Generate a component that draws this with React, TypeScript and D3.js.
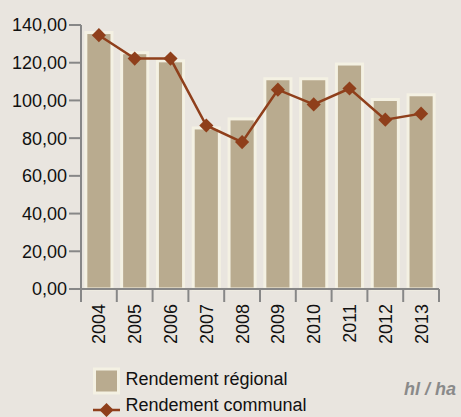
import * as React from "react";
import * as d3 from "d3";

const years = ["2004", "2005", "2006", "2007", "2008", "2009", "2010", "2011", "2012", "2013"];
const rendementRegional = [136, 125.3, 121, 85.4, 90.2, 111.5, 111.5, 119.3, 100.5, 103];
const rendementCommunal = [134.6, 122.2, 122.2, 86.7, 77.9, 105.7, 97.9, 106.3, 89.8, 93];
const yTicks = [0, 20, 40, 60, 80, 100, 120, 140];
const unitLabel = "hl / ha";
const legendLabels = ["Rendement régional", "Rendement communal"];

const BG = "#e9e5df";
const BAR = "#b9ab8f";
const BAR_EDGE = "#f4f1e3";
const LINE = "#8f3f1b";
const AXIS = "#878787";
const FONT = "'Liberation Sans', Arial, sans-serif";

export default function App() {
  const ref = React.useRef<SVGSVGElement>(null);

  React.useEffect(() => {
    const svg = d3.select(ref.current);
    svg.selectAll("*").remove();

    const width = 461, height = 417;
    const left = 81, right = 439, top = 25, bottom = 289;

    svg.append("rect").attr("width", width).attr("height", height).attr("fill", BG);

    const x = d3.scaleBand().domain(years).range([left, right]).paddingInner(0.27).paddingOuter(0.135);
    const xEdges = d3.scaleBand().domain(years).range([left, right]);
    const y = d3.scaleLinear().domain([0, 140]).range([bottom, top]);

    const locale = d3.formatLocale({decimal: ",", thousands: " ", grouping: [3], currency: ["", "€"]});
    const fmt = locale.format(".2f");

    // bars
    svg.append("g").selectAll("rect")
      .data(rendementRegional)
      .enter().append("rect")
      .attr("x", (d, i) => x(years[i])!)
      .attr("y", d => y(d))
      .attr("width", x.bandwidth())
      .attr("height", d => bottom - y(d))
      .attr("fill", BAR)
      .attr("stroke", BAR_EDGE)
      .attr("stroke-width", 3);

    // y axis
    const gy = svg.append("g").attr("transform", `translate(${left},0)`);
    gy.append("line").attr("x1", 0).attr("x2", 0).attr("y1", y(140)).attr("y2", bottom + 13)
      .attr("stroke", AXIS).attr("stroke-width", 2);
    yTicks.forEach(t => {
      gy.append("line").attr("x1", -12).attr("x2", 0).attr("y1", y(t)).attr("y2", y(t))
        .attr("stroke", AXIS).attr("stroke-width", 2);
      gy.append("text").attr("x", -14).attr("y", y(t)).attr("dy", "0.36em")
        .attr("text-anchor", "end").attr("font-family", FONT).attr("font-size", 18)
        .attr("fill", "#111").text(fmt(t));
    });

    // x axis
    const gx = svg.append("g").attr("transform", `translate(0,${bottom})`);
    gx.append("line").attr("x1", left).attr("x2", right).attr("y1", 0).attr("y2", 0)
      .attr("stroke", AXIS).attr("stroke-width", 2);
    const edges = years.map(yr => xEdges(yr)!).concat([right]);
    edges.forEach(e => {
      gx.append("line").attr("x1", e).attr("x2", e).attr("y1", 0).attr("y2", 13)
        .attr("stroke", AXIS).attr("stroke-width", 2);
    });
    years.forEach(yr => {
      const cx = xEdges(yr)! + xEdges.bandwidth() / 2;
      gx.append("text")
        .attr("transform", `translate(${cx},15) rotate(-90)`)
        .attr("dy", "0.36em")
        .attr("text-anchor", "end")
        .attr("font-family", FONT).attr("font-size", 18).attr("fill", "#111")
        .text(yr);
    });

    // line + diamonds
    const cxOf = (i: number) => x(years[i])! + x.bandwidth() / 2;
    const line = d3.line<number>().x((d, i) => cxOf(i)).y(d => y(d));
    svg.append("path").datum(rendementCommunal).attr("d", line)
      .attr("fill", "none").attr("stroke", LINE).attr("stroke-width", 2.5);
    const diamond = d3.symbol().type(d3.symbolSquare).size(100);
    svg.append("g").selectAll("path")
      .data(rendementCommunal)
      .enter().append("path")
      .attr("d", diamond)
      .attr("transform", (d, i) => `translate(${cxOf(i)},${y(d)}) rotate(45)`)
      .attr("fill", LINE);

    // legend
    const lg = svg.append("g");
    lg.append("rect").attr("x", 94.5).attr("y", 369).attr("width", 24).attr("height", 24)
      .attr("fill", BAR).attr("stroke", BAR_EDGE).attr("stroke-width", 3);
    lg.append("text").attr("x", 125.5).attr("y", 385).attr("font-family", FONT).attr("font-size", 18)
      .attr("fill", "#111").text(legendLabels[0]);
    lg.append("line").attr("x1", 93).attr("x2", 120).attr("y1", 410).attr("y2", 410)
      .attr("stroke", LINE).attr("stroke-width", 2.5);
    lg.append("path").attr("d", diamond).attr("transform", "translate(106.5,410) rotate(45)").attr("fill", LINE);
    lg.append("text").attr("x", 125.5).attr("y", 411).attr("font-family", FONT).attr("font-size", 18)
      .attr("fill", "#111").text(legendLabels[1]);

    svg.append("text").attr("x", 404).attr("y", 395).attr("font-family", FONT).attr("font-size", 18)
      .attr("font-weight", "bold").attr("font-style", "italic").attr("fill", "#8a8a8a")
      .text(unitLabel);
  }, []);

  return (
    <svg ref={ref} width={461} height={417}
      style={{position: "absolute", left: 0, top: 0, display: "block"}} />
  );
}
